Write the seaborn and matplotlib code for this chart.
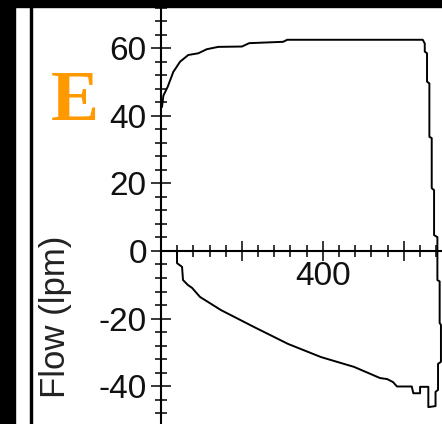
import numpy as np
import pandas as pd
import matplotlib
matplotlib.use("Agg")
import matplotlib.pyplot as plt
from matplotlib.patches import Rectangle
from matplotlib.ticker import MultipleLocator, FuncFormatter
import seaborn as sns

sns.set_style("white")
plt.rcParams['font.family'] = ['Liberation Sans', 'DejaVu Sans']

# flow-volume loop (volume in ml, flow in lpm)
volume = [201.2, 203.0, 208.3, 215.2, 219.4, 223.5, 233.7, 246.1, 256.5, 270.8,
          300.0, 309.0, 351.0, 356.0, 523.5, 526.0, 526.0, 528.8, 528.8, 531.7,
          531.7, 534.6, 534.6, 537.5, 537.5, 541.6, 541.6, 544.4, 544.4, 546.0,
          546.0, 542.4, 542.4, 539.3, 539.3, 530.4, 530.4, 520.2, 520.2, 511.9,
          509.9, 491.7, 486.8, 479.4, 470.7, 438.6, 397.8, 357.0, 315.0, 274.2,
          248.2, 238.3, 233.4, 227.2, 226.0, 219.8, 219.8]
flow = [42.6, 46.0, 48.6, 53.0, 54.5, 56.0, 58.0, 58.5, 59.7, 60.4,
        60.5, 61.5, 61.9, 62.5, 62.5, 61.4, 59.0, 58.5, 50.1, 49.6,
        33.8, 33.4, 18.6, 18.0, 4.7, 4.1, -8.6, -9.0, -21.3, -21.9,
        -32.8, -33.4, -41.1, -41.7, -45.9, -46.2, -40.2, -40.2, -42.1, -42.1,
        -40.1, -40.1, -38.8, -37.9, -37.6, -34.3, -31.4, -27.5, -22.5, -17.5,
        -13.6, -10.9, -10.1, -8.6, -4.7, -3.6, 0.0]

panel_letter = "E"
y_label = "Flow (lpm)"

df = pd.DataFrame({'volume': volume, 'flow': flow})

fig = plt.figure(figsize=(4.42, 4.24), dpi=100)
ax = fig.add_axes([161 / 442, 0, 281 / 442, 417 / 424])

sns.lineplot(data=df, x='volume', y='flow', sort=False, estimator=None,
             color='black', lw=1.4, ax=ax)

ax.set_xlim(200, 547.3)
ax.set_ylim(-51.2, 72.2)

for s in ['top', 'right']:
    ax.spines[s].set_visible(False)
ax.spines['bottom'].set_position(('data', 0))
for s in ['left', 'bottom']:
    ax.spines[s].set_linewidth(1.5)
    ax.spines[s].set_color('black')

ax.xaxis.set_major_locator(MultipleLocator(100))
ax.xaxis.set_minor_locator(MultipleLocator(20))
ax.yaxis.set_major_locator(MultipleLocator(20))
ax.yaxis.set_minor_locator(MultipleLocator(4))
ax.xaxis.set_major_formatter(FuncFormatter(
    lambda v, p: f"{v:.0f}" if (round(v) % 200 == 0 and round(v) != 200) else ""))
ax.yaxis.set_major_formatter(FuncFormatter(lambda v, p: f"{v:.0f}"))

ax.tick_params(axis='both', which='both', bottom=True, left=True,
               top=False, right=False)
ax.tick_params(axis='both', which='major', direction='inout', length=14.4,
               width=1.1, color='black', labelsize=24, labelcolor='#111111')
ax.tick_params(axis='x', which='major', pad=0)
ax.tick_params(axis='y', which='major', pad=3)
ax.tick_params(axis='x', which='minor', direction='inout', length=8.6,
               width=1.1, color='black')
ax.tick_params(axis='y', which='minor', direction='inout', length=8,
               width=1.1, color='black')
ax.set_xlabel("")
ax.set_ylabel(y_label, fontsize=25, color='#222222', va='center')
ax.yaxis.set_label_coords((56 - 161) / 281, (424 - 317) / 417)
ax.grid(False)

# panel letter
fig.text(75 / 442, 1 - 120 / 424, panel_letter, ha='center', va='baseline',
         fontsize=52, fontweight='bold', color='#FF9900',
         family=['Liberation Serif', 'DejaVu Serif'])

# black frame pieces
fig.patches.append(Rectangle((0, 0), 15 / 442, 1, transform=fig.transFigure,
                             color='black', zorder=10))
fig.patches.append(Rectangle((30 / 442, 0), 2.5 / 442, 1, transform=fig.transFigure,
                             color='black', zorder=10))
fig.patches.append(Rectangle((0, 417 / 424), 1, 7 / 424, transform=fig.transFigure,
                             color='black', zorder=10))

fig.savefig("out.png", dpi=100)
